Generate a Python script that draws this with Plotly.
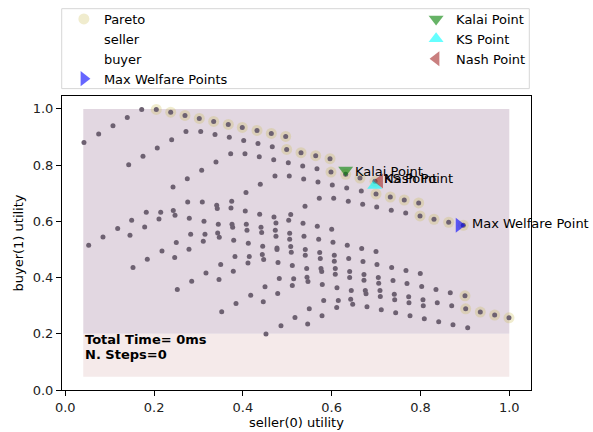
import plotly.graph_objects as go

# ---- outcome utilities: (seller, buyer) ----
outcome_seller = [
    0.0421, 0.0752, 0.1074, 0.1396, 0.1721,
    0.2718, 0.3050, 0.3372, 0.3694, 0.4018, 0.4340, 0.4662,
    0.2396, 0.2072, 0.1750, 0.1428,
    0.3725, 0.4047, 0.4369, 0.4694,
    0.3394, 0.3072, 0.2748, 0.2426,
    0.4723, 0.4392, 0.4070,
    0.5023, 0.5347, 0.5669, 0.5045, 0.5369, 0.5691, 0.6014, 0.6338, 0.6667,
    0.5721, 0.6045,
    0.5399, 0.6374, 0.6698, 0.7014, 0.7342, 0.7667,
    0.5077, 0.5032, 0.5354, 0.5676, 0.6000,
    0.5054, 0.5054, 0.5376, 0.5707, 0.6029, 0.6351, 0.6676, 0.6998,
    0.5077, 0.5090, 0.5405, 0.5405, 0.5730, 0.5743, 0.6059, 0.6059,
    0.6383, 0.6705, 0.7020, 0.7351, 0.7673, 0.7995,
    0.5113, 0.5437, 0.5759, 0.5775, 0.6081, 0.6081, 0.6405, 0.6405,
    0.6727, 0.6727, 0.7050, 0.7059, 0.7381, 0.7696, 0.8027, 0.8349, 0.8671,
    0.5144, 0.5444, 0.5466, 0.5113, 0.5788, 0.6119, 0.6441, 0.6757, 0.6773,
    0.7088, 0.7095, 0.7410, 0.7419, 0.7734, 0.7741, 0.8056, 0.8063, 0.8378, 0.8703,
    0.5820, 0.6149, 0.6113, 0.6428, 0.6473, 0.6795, 0.7117, 0.7441, 0.7764,
    0.8086, 0.8410, 0.8732, 0.9063,
    0.5495, 0.5173, 0.5782, 0.5459, 0.4858,
    0.2757, 0.3086, 0.3410, 0.3423, 0.3748, 0.3732, 0.4054, 0.4378, 0.4700,
    0.1824, 0.2149, 0.2432, 0.2471, 0.2110, 0.1495,
    0.2793, 0.3124, 0.3446, 0.3755, 0.3770, 0.4077, 0.4092, 0.4408, 0.4423,
    0.4730, 0.4745, 0.4745,
    0.1788, 0.1180, 0.1457, 0.0849, 0.0527,
    0.2824, 0.3146, 0.3432, 0.3468, 0.3108, 0.2500, 0.2178, 0.1847, 0.1525,
    0.2786, 0.2464, 0.3793, 0.4122, 0.4446, 0.4768, 0.4768, 0.4437, 0.4468,
    0.4144, 0.4115, 0.3822, 0.3500, 0.3784, 0.3169, 0.3462, 0.2847, 0.2523,
    0.4791, 0.4820, 0.4498, 0.4176, 0.3845, 0.3523, 0.4784, 0.4459, 0.4520,
]
outcome_buyer = [
    0.8810, 0.9105, 0.9403, 0.9698, 0.9982,
    0.9201, 0.9201, 0.9094, 0.8988, 0.8881, 0.8774, 0.8657,
    0.8906, 0.8607, 0.8313, 0.8018,
    0.8409, 0.8409, 0.8302, 0.8195,
    0.8110, 0.7815, 0.7520, 0.7222,
    0.7613, 0.7318, 0.7023,
    0.8089, 0.7968, 0.7876, 0.7613, 0.7506, 0.7400, 0.7293, 0.7187, 0.7080,
    0.6821, 0.6821,
    0.6536, 0.6714, 0.6607, 0.6512, 0.6394, 0.6298,
    0.6242, 0.6039, 0.5932, 0.5826, 0.5719,
    0.5577, 0.5364, 0.5471, 0.5364, 0.5258, 0.5151, 0.5034, 0.4927,
    0.5105, 0.4902, 0.4998, 0.4796, 0.4892, 0.4678, 0.4796, 0.4583,
    0.4678, 0.4572, 0.4465, 0.4359, 0.4252, 0.4146,
    0.4430, 0.4323, 0.4323, 0.4217, 0.4323, 0.4121, 0.4217, 0.4004,
    0.4110, 0.3908, 0.4004, 0.3801, 0.3897, 0.3790, 0.3684, 0.3577, 0.3456,
    0.3954, 0.4014, 0.3861, 0.3719, 0.3755, 0.3634, 0.3542, 0.3542, 0.3421,
    0.3542, 0.3329, 0.3410, 0.3208, 0.3314, 0.3101, 0.3208, 0.2995, 0.3101, 0.2995,
    0.3187, 0.3187, 0.2938, 0.3233, 0.3055, 0.2959, 0.2853, 0.2746, 0.2639,
    0.2533, 0.2426, 0.2320, 0.2213,
    0.2888, 0.2583, 0.2639, 0.2345, 0.2284,
    0.6689, 0.6689, 0.6572, 0.6455, 0.6714, 0.6476, 0.6369, 0.6252, 0.6156,
    0.6323, 0.6323, 0.6384, 0.6217, 0.6085, 0.6039,
    0.6110, 0.6004, 0.5897, 0.5897, 0.5790, 0.5897, 0.5684, 0.5790, 0.5602,
    0.5684, 0.5471, 0.5943,
    0.5801, 0.5744, 0.5506, 0.5446, 0.5151,
    0.5542, 0.5542, 0.5588, 0.5435, 0.5293, 0.5247, 0.4948, 0.4654, 0.4359,
    0.5009, 0.4714, 0.5329, 0.5222, 0.5115, 0.5055, 0.4998, 0.4821, 0.4643,
    0.4750, 0.4522, 0.4750, 0.4465, 0.4227, 0.4167, 0.3932, 0.3872, 0.3577,
    0.4536, 0.3968, 0.3670, 0.3375, 0.3080, 0.2782, 0.3435, 0.3137, 0.1989,
]

# ---- Pareto frontier ----
pareto_seller = [
    0.2050, 0.2374, 0.2696, 0.3018, 0.3342, 0.3671, 0.3986, 0.4318, 0.4640, 0.4964,
    0.4986, 0.5309, 0.5640, 0.5962,
    0.5984, 0.6315, 0.6637, 0.6975,
    0.6998, 0.7320, 0.7635, 0.7959,
    0.7989, 0.8304, 0.8635, 0.8964,
    0.9002,
    0.9018, 0.9347, 0.9671, 0.9993,
]
pareto_buyer = [
    0.9982, 0.9886, 0.9769, 0.9663, 0.9556, 0.9449, 0.9343, 0.9236, 0.9130, 0.9023,
    0.8561, 0.8444, 0.8337, 0.8231,
    0.7755, 0.7673, 0.7542, 0.7425,
    0.6973, 0.6867, 0.6760, 0.6654,
    0.6192, 0.6075, 0.5968, 0.5861,
    0.3350,
    0.2888, 0.2771, 0.2664, 0.2568,
]

# ---- special agreement points ----
special_names = ["Max Welfare Points", "Kalai Point", "KS Point", "Nash Point"]
special_labels = ["Max Welfare Point", "Kalai Point", "KS Point", "Nash Point"]
special_seller = [0.8867, 0.6315, 0.6968, 0.7081]
special_buyer = [0.5861, 0.7830, 0.7272, 0.7432]

# ---- rational regions (reserved values) ----
region_x = [0.0405, 1.0]
seller_region_y = [0.047, 0.2]
buyer_region_y = [0.2, 1.0]

total_time_ms = 0
n_steps = 0

FONT = "DejaVu Sans"

fig = go.Figure()

fig.add_shape(type="rect", xref="x", yref="y", layer="below",
              x0=region_x[0], x1=region_x[1], y0=seller_region_y[0], y1=seller_region_y[1],
              fillcolor="#f5eaea", line=dict(width=0))
fig.add_shape(type="rect", xref="x", yref="y", layer="below",
              x0=region_x[0], x1=region_x[1], y0=buyer_region_y[0], y1=buyer_region_y[1],
              fillcolor="#e2d7e1", line=dict(width=0))

fig.add_trace(go.Scatter(
    x=pareto_seller, y=pareto_buyer, mode="markers", name="Pareto",
    marker=dict(size=11, color="rgba(200,185,80,0.28)", line=dict(width=0)),
    legend="legend",
))
fig.add_trace(go.Scatter(
    x=[None], y=[None], mode="markers", name="seller",
    marker=dict(size=1, color="rgba(0,0,0,0)"), legend="legend",
))
fig.add_trace(go.Scatter(
    x=[None], y=[None], mode="markers", name="buyer",
    marker=dict(size=1, color="rgba(0,0,0,0)"), legend="legend",
))
fig.add_trace(go.Scatter(
    x=outcome_seller + pareto_seller, y=outcome_buyer + pareto_buyer,
    mode="markers", name="outcomes", showlegend=False,
    marker=dict(size=5, color="#6d6171", line=dict(width=0)),
))

symbols = ["triangle-right", "triangle-down", "triangle-up", "triangle-left"]
colors = ["rgba(0,0,255,0.6)", "rgba(0,128,0,0.6)", "rgba(0,255,255,0.6)", "rgba(165,42,42,0.6)"]
legends = ["legend", "legend2", "legend2", "legend2"]
for name, sx, by, sym, col, lg in zip(special_names, special_seller, special_buyer,
                                       symbols, colors, legends):
    fig.add_trace(go.Scatter(
        x=[sx], y=[by], mode="markers", name=name,
        marker=dict(size=13, symbol=sym, color=col, line=dict(width=0)),
        legend=lg,
    ))

# point labels
shifts = [(11, 1.5), (7, -1.5), (7, 7), (2, 3)]
for lab, sx, by, (dx, dy) in zip(special_labels, special_seller, special_buyer, shifts):
    fig.add_annotation(x=sx, y=by, xref="x", yref="y", text=lab, showarrow=False,
                       xanchor="left", yanchor="middle", xshift=dx, yshift=dy,
                       font=dict(family=FONT, size=13, color="black"))

fig.add_annotation(x=region_x[0], y=seller_region_y[1], xref="x", yref="y",
                   text=f"<b>Total Time= {total_time_ms}ms</b>", showarrow=False,
                   xanchor="left", yanchor="top", xshift=0, yshift=3.5,
                   font=dict(family=FONT, size=13, color="black"))
fig.add_annotation(x=region_x[0], y=seller_region_y[1], xref="x", yref="y",
                   text=f"<b>N. Steps={n_steps}</b>", showarrow=False,
                   xanchor="left", yanchor="top", xshift=0, yshift=-11.5,
                   font=dict(family=FONT, size=13, color="black"))

# frame around both legend columns
fig.add_shape(type="rect", xref="paper", yref="paper",
              x0=-0.0006, x1=0.9964, y0=1.0251, y1=1.297,
              line=dict(color="#d6d6d6", width=1), fillcolor="rgba(0,0,0,0)")

axis_common = dict(
    showgrid=False, zeroline=False, showline=True, mirror=True,
    linecolor="black", linewidth=1, ticks="outside", ticklen=5, tickwidth=1,
    tickcolor="black", tickfont=dict(family=FONT, size=13, color="#222"),
    tickformat=".1f", dtick=0.2, automargin=False,
)

fig.update_layout(
    width=593, height=432,
    margin=dict(l=62, r=62, t=96, b=42, autoexpand=False),
    paper_bgcolor="white", plot_bgcolor="white",
    font=dict(family=FONT, size=13, color="black"),
    xaxis=dict(range=[-0.0074, 1.0489], tick0=0,
               title=dict(text="seller(0) utility", font=dict(family=FONT, size=13), standoff=3),
               **axis_common),
    yaxis=dict(range=[0, 1.046], tick0=0,
               title=dict(text="buyer(1) utility", font=dict(family=FONT, size=13), standoff=6),
               **axis_common),
    legend=dict(x=0.004, y=1.313, xanchor="left", yanchor="top",
                bgcolor="rgba(0,0,0,0)", borderwidth=0, tracegroupgap=0,
                font=dict(family=FONT, size=13, color="black")),
    legend2=dict(x=0.755, y=1.313, xanchor="left", yanchor="top",
                 bgcolor="rgba(0,0,0,0)", borderwidth=0, tracegroupgap=0,
                 font=dict(family=FONT, size=13, color="black")),
    showlegend=True,
)

fig.write_html("out.html")
